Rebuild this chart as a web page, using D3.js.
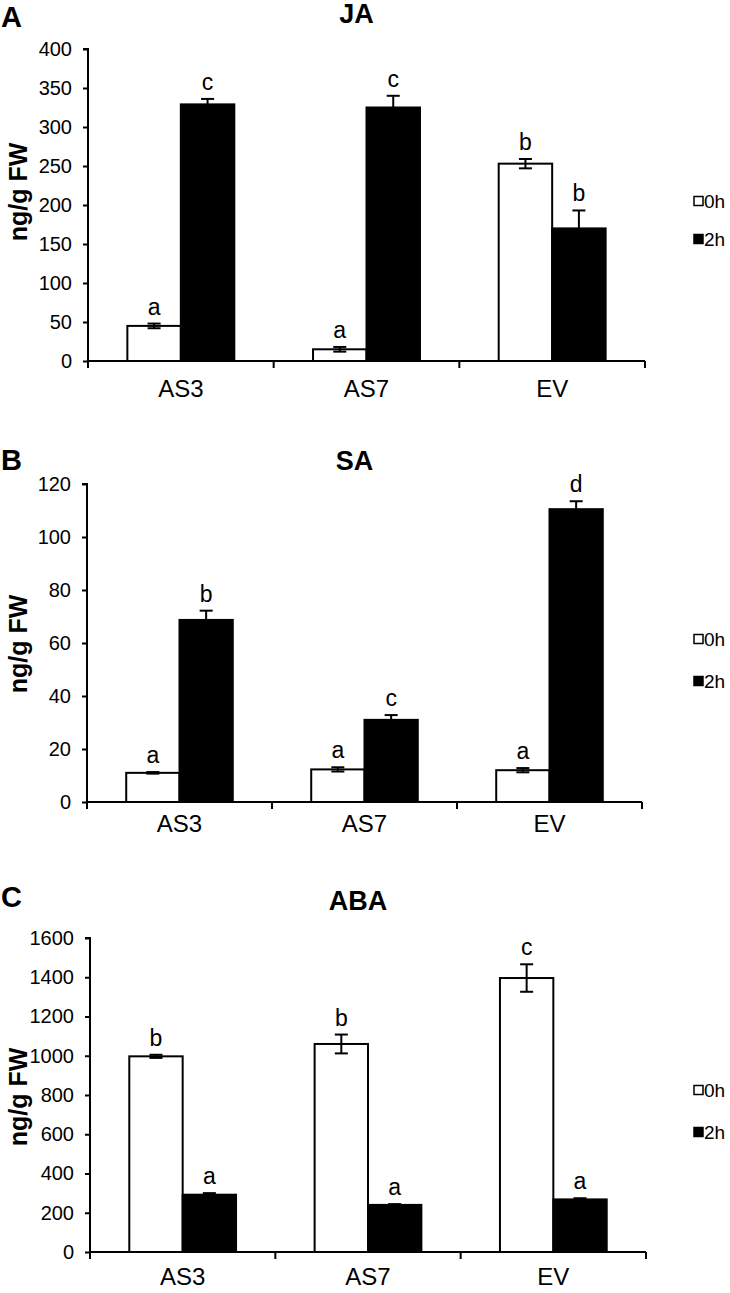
<!DOCTYPE html>
<html>
<head>
<meta charset="utf-8">
<script src="https://cdn.jsdelivr.net/npm/d3@7"></script>
<style>
  html, body { margin: 0; padding: 0; background: #fff; }
  svg { display: block; font-family: "Liberation Sans", Arial, sans-serif; }
</style>
</head>
<body>
<svg id="chart" width="730" height="1293"></svg>
<script>
// ---------- data ----------
const categories = ["AS3", "AS7", "EV"];
const seriesNames = ["0h", "2h"];

// JA (panel A)
const jaMean0h = [45, 15, 253];
const jaErr0h  = [3, 3, 6];
const jaMean2h = [329, 325, 170];
const jaErr2h  = [7, 15, 23];
const jaLetters0h = ["a", "a", "b"];
const jaLetters2h = ["c", "c", "b"];
const jaTicks = [0, 50, 100, 150, 200, 250, 300, 350, 400];

// SA (panel B)
const saMean0h = [11, 12.3, 12];
const saErr0h  = [0.3, 0.8, 0.8];
const saMean2h = [68.7, 31, 110.5];
const saErr2h  = [3.5, 1.8, 3];
const saLetters0h = ["a", "a", "a"];
const saLetters2h = ["b", "c", "d"];
const saTicks = [0, 20, 40, 60, 80, 100, 120];

// ABA (panel C)
const abaMean0h = [997, 1060, 1396];
const abaErr0h  = [8, 48, 70];
const abaMean2h = [292, 240, 268];
const abaErr2h  = [8, 4, 6];
const abaLetters0h = ["b", "b", "c"];
const abaLetters2h = ["a", "a", "a"];
const abaTicks = [0, 200, 400, 600, 800, 1000, 1200, 1400, 1600];

const yTitle = "ng/g FW";

// ---------- layout ----------
const panels = [
  { letter: "A", title: "JA",  mean: [jaMean0h, jaMean2h], err: [jaErr0h, jaErr2h], letters: [jaLetters0h, jaLetters2h], ticks: jaTicks,
    x0: 88, x1: 645, yTop: 49, yBot: 361, letterY: 27, titleY: 23, yTitleC: 192, legY: [201, 239], catY: 396 },
  { letter: "B", title: "SA",  mean: [saMean0h, saMean2h], err: [saErr0h, saErr2h], letters: [saLetters0h, saLetters2h], ticks: saTicks,
    x0: 87, x1: 642, yTop: 484, yBot: 802, letterY: 470, titleY: 470, yTitleC: 644, legY: [639, 681], catY: 831 },
  { letter: "C", title: "ABA", mean: [abaMean0h, abaMean2h], err: [abaErr0h, abaErr2h], letters: [abaLetters0h, abaLetters2h], ticks: abaTicks,
    x0: 90, x1: 646, yTop: 938, yBot: 1252, letterY: 907, titleY: 910, yTitleC: 1097, legY: [1090, 1132], catY: 1284 }
];

const svg = d3.select("#chart");
const fills = ["#ffffff", "#000000"];

panels.forEach(p => {
  const g = svg.append("g");
  const x = d3.scaleBand().domain(categories).range([p.x0, p.x1]).paddingInner(0).paddingOuter(0);
  const bw = x.bandwidth();
  const xs = d3.scaleBand().domain(seriesNames).range([bw * 0.212, bw * 0.788]).padding(0);
  const y = d3.scaleLinear().domain([0, d3.max(p.ticks)]).range([p.yBot, p.yTop]);

  // bars
  seriesNames.forEach((s, si) => {
    categories.forEach((c, ci) => {
      const v = p.mean[si][ci];
      g.append("rect")
        .attr("x", x(c) + xs(s))
        .attr("y", y(v))
        .attr("width", xs.bandwidth())
        .attr("height", y(0) - y(v))
        .attr("fill", fills[si])
        .attr("stroke", "#000")
        .attr("stroke-width", 2);
    });
  });

  // error bars + letters
  seriesNames.forEach((s, si) => {
    categories.forEach((c, ci) => {
      const v = p.mean[si][ci], e = p.err[si][ci];
      const cx = x(c) + xs(s) + xs.bandwidth() / 2;
      const eb = g.append("g").attr("stroke", "#000").attr("stroke-width", 2);
      eb.append("line").attr("x1", cx).attr("x2", cx).attr("y1", y(v - e)).attr("y2", y(v + e));
      eb.append("line").attr("x1", cx - 6.5).attr("x2", cx + 6.5).attr("y1", y(v + e)).attr("y2", y(v + e));
      eb.append("line").attr("x1", cx - 6.5).attr("x2", cx + 6.5).attr("y1", y(v - e)).attr("y2", y(v - e));
      g.append("text")
        .attr("x", cx)
        .attr("y", y(v + e) - 9)
        .attr("text-anchor", "middle")
        .attr("font-size", 23)
        .text(p.letters[si][ci]);
    });
  });

  // y axis
  const yAxis = d3.axisLeft(y).tickValues(p.ticks).tickSize(5).tickPadding(11).tickFormat(d3.format("d"));
  const ya = g.append("g").attr("transform", `translate(${p.x0},0)`).call(yAxis);
  ya.select(".domain").attr("stroke-width", 2).attr("d", `M-5,${p.yTop}H0V${p.yBot}`);
  ya.selectAll(".tick line").attr("stroke-width", 2);
  ya.selectAll(".tick text").attr("font-size", 20).attr("fill", "#000").attr("font-family", "Liberation Sans, Arial, sans-serif");

  // x axis: baseline + boundary ticks
  const boundaries = categories.map(c => x(c)).concat([p.x1]);
  g.append("line").attr("x1", p.x0).attr("x2", p.x1).attr("y1", p.yBot).attr("y2", p.yBot)
    .attr("stroke", "#000").attr("stroke-width", 2);
  g.selectAll(".xb").data(boundaries).enter().append("line")
    .attr("x1", d => d).attr("x2", d => d).attr("y1", p.yBot).attr("y2", p.yBot + 7)
    .attr("stroke", "#000").attr("stroke-width", 2);
  g.selectAll(".xl").data(categories).enter().append("text")
    .attr("x", d => x(d) + bw / 2)
    .attr("y", p.catY + 1)
    .attr("text-anchor", "middle")
    .attr("font-size", 24)
    .text(d => d);

  // y title
  g.append("text")
    .attr("transform", `translate(27,${p.yTitleC}) rotate(-90)`)
    .attr("text-anchor", "middle")
    .attr("font-size", 25)
    .attr("font-weight", "bold")
    .text(yTitle);

  // panel letter & title
  g.append("text").attr("x", 1).attr("y", p.letterY).attr("font-size", 29).attr("font-weight", "bold").text(p.letter);
  g.append("text").attr("x", (p.x0 + p.x1) / 2 - 10).attr("y", p.titleY).attr("text-anchor", "middle")
    .attr("font-size", 27).attr("font-weight", "bold").text(p.title);

  // legend
  seriesNames.forEach((s, si) => {
    g.append("rect").attr("x", 694).attr("y", p.legY[si] - 4.5).attr("width", 9).attr("height", 9)
      .attr("fill", fills[si]).attr("stroke", "#000").attr("stroke-width", 1.5);
    g.append("text").attr("x", 704).attr("y", p.legY[si]).attr("dy", "0.36em")
      .attr("font-size", 19).text(s);
  });
});
</script>
</body>
</html>
